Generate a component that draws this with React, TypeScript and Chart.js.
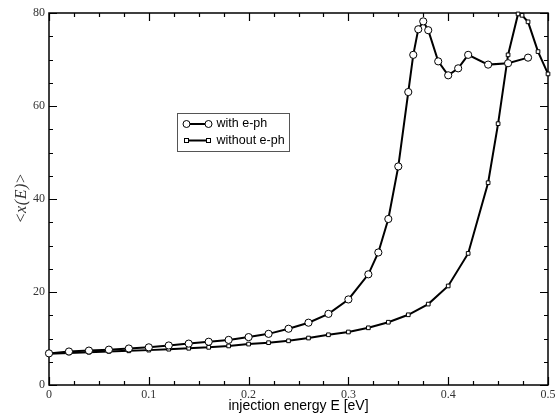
import React, { useEffect, useRef } from 'react';
import { Chart, registerables } from 'chart.js';

Chart.register(...registerables);

// ---- data ----
const energyWith = [0, 0.02, 0.04, 0.06, 0.08, 0.1, 0.12, 0.14, 0.16, 0.18, 0.2, 0.22, 0.24, 0.26, 0.28, 0.3, 0.32, 0.33, 0.34, 0.35, 0.36, 0.365, 0.37, 0.375, 0.38, 0.39, 0.4, 0.41, 0.42, 0.44, 0.46, 0.48];
const xWith = [6.8, 7.2, 7.4, 7.6, 7.85, 8.1, 8.5, 8.9, 9.3, 9.7, 10.3, 11.0, 12.1, 13.4, 15.3, 18.4, 23.8, 28.5, 35.7, 47.0, 63.0, 71.0, 76.5, 78.2, 76.3, 69.6, 66.6, 68.1, 71.0, 68.9, 69.2, 70.4];

const energyWithout = [0, 0.02, 0.04, 0.06, 0.08, 0.1, 0.12, 0.14, 0.16, 0.18, 0.2, 0.22, 0.24, 0.26, 0.28, 0.3, 0.32, 0.34, 0.36, 0.38, 0.4, 0.42, 0.44, 0.45, 0.46, 0.47, 0.474, 0.48, 0.49, 0.5];
const xWithout = [6.7, 6.9, 7.05, 7.2, 7.35, 7.5, 7.7, 7.9, 8.1, 8.4, 8.8, 9.1, 9.5, 10.1, 10.8, 11.4, 12.3, 13.5, 15.1, 17.4, 21.3, 28.3, 43.5, 56.2, 71.0, 79.8, 79.5, 78.1, 71.7, 66.9];

const seriesLabels = ['with e-ph', 'without e-ph'];
const xTickLabels = ['0', '0.1', '0.2', '0.3', '0.4', '0.5'];
const yTickLabels = ['0', '20', '40', '60', '80'];
const xAxisTitle = 'injection energy E [eV]';

const TICK_COLOR = '#333';

const framePlugin = {
  id: 'frame',
  beforeDatasetsDraw(chart: any) {
    const { ctx, chartArea: a, scales } = chart;
    const xs = scales.x;
    const ys = scales.y;
    ctx.save();
    ctx.strokeStyle = '#000';
    ctx.lineWidth = 1.5;
    ctx.strokeRect(a.left, a.top, a.right - a.left, a.bottom - a.top);
    ctx.lineWidth = 1.2;
    ctx.beginPath();
    for (let i = 0; i <= 20; i++) {
      const v = i * 0.025;
      const px = Math.round(xs.getPixelForValue(v)) + 0.5;
      const len = i % 4 === 0 ? 8 : 4;
      ctx.moveTo(px, a.bottom);
      ctx.lineTo(px, a.bottom - len);
      ctx.moveTo(px, a.top);
      ctx.lineTo(px, a.top + len);
    }
    for (let i = 0; i <= 16; i++) {
      const v = i * 5;
      const py = Math.round(ys.getPixelForValue(v)) + 0.5;
      const len = i % 4 === 0 ? 8 : 4;
      ctx.moveTo(a.left, py);
      ctx.lineTo(a.left + len, py);
      ctx.moveTo(a.right, py);
      ctx.lineTo(a.right - len, py);
    }
    ctx.stroke();
    ctx.restore();
  },
  afterDraw(chart: any) {
    const { ctx, chartArea: a, scales } = chart;
    // y-axis title "<x(E)>"
    ctx.save();
    const cy = (a.top + a.bottom) / 2 - 1;
    ctx.translate(22, cy);
    ctx.rotate(-Math.PI / 2);
    ctx.fillStyle = TICK_COLOR;
    ctx.textBaseline = 'middle';
    const parts: [string, boolean][] = [['<', false], ['x', true], ['(', true], ['E', true], [')', true], ['>', false]];
    const fontFor = (it: boolean) => (it ? 'italic ' : '') + '16px "Liberation Serif", "DejaVu Serif", serif';
    let total = 0;
    const widths = parts.map(([t, it]) => {
      ctx.font = fontFor(it);
      const w = ctx.measureText(t).width + 0.6;
      total += w;
      return w;
    });
    let x = -total / 2;
    parts.forEach(([t, it], i) => {
      ctx.font = fontFor(it);
      ctx.textAlign = 'left';
      ctx.fillText(t, x, 0);
      x += widths[i];
    });
    ctx.restore();

    // legend
    const xs = scales.x;
    const ys = scales.y;
    const bx = Math.round(xs.getPixelForValue(0.128)) + 0.5;
    const by = Math.round(ys.getPixelForValue(58.5)) + 0.5;
    const bw = 112;
    const bh = 38;
    ctx.save();
    ctx.fillStyle = '#fff';
    ctx.fillRect(bx, by, bw, bh);
    ctx.strokeStyle = '#555';
    ctx.lineWidth = 1;
    ctx.strokeRect(bx, by, bw, bh);
    const rows = [by + 10.5, by + 27];
    chart.data.datasets.forEach((ds: any, i: number) => {
      const yy = rows[i];
      const x1 = bx + 9;
      const x2 = bx + 31;
      ctx.strokeStyle = '#000';
      ctx.lineWidth = 2;
      ctx.beginPath();
      ctx.moveTo(x1, yy);
      ctx.lineTo(x2, yy);
      ctx.stroke();
      ctx.lineWidth = 1;
      ctx.fillStyle = '#fff';
      if (ds.pointStyle === 'circle') {
        [x1, x2].forEach((px) => {
          ctx.beginPath();
          ctx.arc(px, yy, 3.5, 0, Math.PI * 2);
          ctx.fill();
          ctx.stroke();
        });
      } else {
        [x1, x2].forEach((px) => {
          ctx.fillRect(px - 2, yy - 2, 4, 4);
          ctx.strokeRect(px - 2, yy - 2, 4, 4);
        });
      }
      ctx.fillStyle = '#000';
      ctx.font = '12.5px "Liberation Sans", Arial, sans-serif';
      ctx.textBaseline = 'middle';
      ctx.textAlign = 'left';
      ctx.fillText(ds.label, bx + 39, yy);
    });
    ctx.restore();
  },
};

export default function App() {
  const ref = useRef<HTMLCanvasElement | null>(null);

  useEffect(() => {
    if (!ref.current) return;
    const chart = new Chart(ref.current, {
      type: 'scatter',
      data: {
        datasets: [
          {
            label: seriesLabels[0],
            data: energyWith.map((e, i) => ({ x: e, y: xWith[i] })),
            showLine: true,
            borderColor: '#000',
            borderWidth: 2,
            pointStyle: 'circle',
            pointRadius: 3.6,
            pointBackgroundColor: '#fff',
            pointBorderColor: '#000',
            pointBorderWidth: 1,
            clip: false,
          } as any,
          {
            label: seriesLabels[1],
            data: energyWithout.map((e, i) => ({ x: e, y: xWithout[i] })),
            showLine: true,
            borderColor: '#000',
            borderWidth: 2,
            pointStyle: 'rect',
            pointRadius: 2.6,
            pointBackgroundColor: '#fff',
            pointBorderColor: '#000',
            pointBorderWidth: 1,
            clip: false,
          } as any,
        ],
      },
      options: {
        responsive: false,
        animation: false,
        devicePixelRatio: 1,
        layout: { padding: { left: 0, top: 13, right: 12, bottom: 0 } },
        plugins: { legend: { display: false }, tooltip: { enabled: false } },
        scales: {
          x: {
            type: 'linear',
            min: 0,
            max: 0.5,
            afterFit: (s: any) => { s.height = 34; },
            afterBuildTicks: (s: any) => { s.ticks = xTickLabels.map((t) => ({ value: parseFloat(t) })); },
            ticks: {
              callback: (_v: any, i: number) => xTickLabels[i],
              font: { family: '"Liberation Serif", "DejaVu Serif", serif', size: 12 },
              color: TICK_COLOR,
              padding: 3,
              maxRotation: 0,
              autoSkip: false,
            },
            grid: { display: false, drawTicks: false },
            border: { display: false },
            title: {
              display: true,
              text: xAxisTitle,
              font: { family: '"Liberation Sans", Arial, sans-serif', size: 14 },
              color: '#000',
              padding: { top: 0, bottom: 4 },
            },
          },
          y: {
            type: 'linear',
            min: 0,
            max: 80,
            afterFit: (s: any) => { s.width = 49; },
            afterBuildTicks: (s: any) => { s.ticks = yTickLabels.map((t) => ({ value: parseFloat(t) })); },
            ticks: {
              callback: (_v: any, i: number) => yTickLabels[i],
              font: { family: '"Liberation Serif", "DejaVu Serif", serif', size: 12 },
              color: TICK_COLOR,
              padding: 4,
              autoSkip: false,
            },
            grid: { display: false, drawTicks: false },
            border: { display: false },
          },
        },
      },
      plugins: [framePlugin],
    });
    return () => chart.destroy();
  }, []);

  return (
    <div style={{ position: 'absolute', left: 0, top: 0, width: 560, height: 419, background: '#fff' }}>
      <canvas ref={ref} width={560} height={419} style={{ display: 'block' }} />
    </div>
  );
}
